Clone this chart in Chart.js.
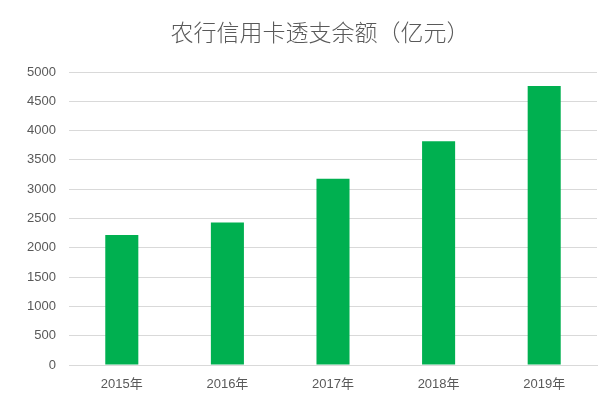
<!DOCTYPE html>
<html>
<head>
<meta charset="utf-8">
<script src="https://cdn.jsdelivr.net/npm/chart.js@4"></script>
<style>
  html, body { margin: 0; padding: 0; background: #fff; }
  #wrap { width: 606px; height: 400px; }
</style>
</head>
<body>
<div id="wrap"><canvas id="myChart"></canvas></div>
<script>
const years = ['2015年', '2016年', '2017年', '2018年', '2019年'];
const balance = [2220, 2430, 3180, 3820, 4760];
const titleText = '农行信用卡透支余额（亿元）';

// title sits a bit left of the plot centre, so draw it ourselves
const titlePlugin = {
  id: 'titleText',
  afterDraw(chart) {
    const c = chart.ctx;
    c.save();
    c.fillStyle = '#595959';
    c.font = '300 23px "Noto Sans CJK SC", sans-serif';
    c.textAlign = 'center';
    c.textBaseline = 'middle';
    c.fillText(titleText, 320, 32);
    c.restore();
  }
};

const ctx = document.getElementById('myChart');

new Chart(ctx, {
  type: 'bar',
  data: {
    labels: years,
    datasets: [{
      data: balance,
      backgroundColor: '#00b050',
      categoryPercentage: 1,
      barPercentage: 0.313
    }]
  },
  options: {
    responsive: true,
    maintainAspectRatio: false,
    animation: false,
    layout: {
      padding: { left: 0, right: 9, top: 72, bottom: 0 }
    },
    plugins: {
      legend: { display: false },
      tooltip: { enabled: false },
      title: { display: false }
    },
    scales: {
      x: {
        grid: { display: false, drawTicks: false },
        border: { display: true, color: '#d9d9d9' },
        ticks: {
          color: '#595959',
          padding: 12,
          font: { family: '"Liberation Sans", "Noto Sans CJK SC", sans-serif', size: 13 }
        },
        afterFit: function(scale) { scale.height = 35; }
      },
      y: {
        min: 0,
        max: 5000,
        ticks: {
          stepSize: 500,
          color: '#595959',
          padding: 13,
          font: { family: '"Liberation Sans", sans-serif', size: 13 },
          callback: function(value) { return String(value); }
        },
        grid: { color: '#d9d9d9', drawTicks: false },
        border: { display: false },
        afterFit: function(scale) { scale.width = 69; }
      }
    }
  },
  plugins: [titlePlugin]
});
</script>
</body>
</html>
